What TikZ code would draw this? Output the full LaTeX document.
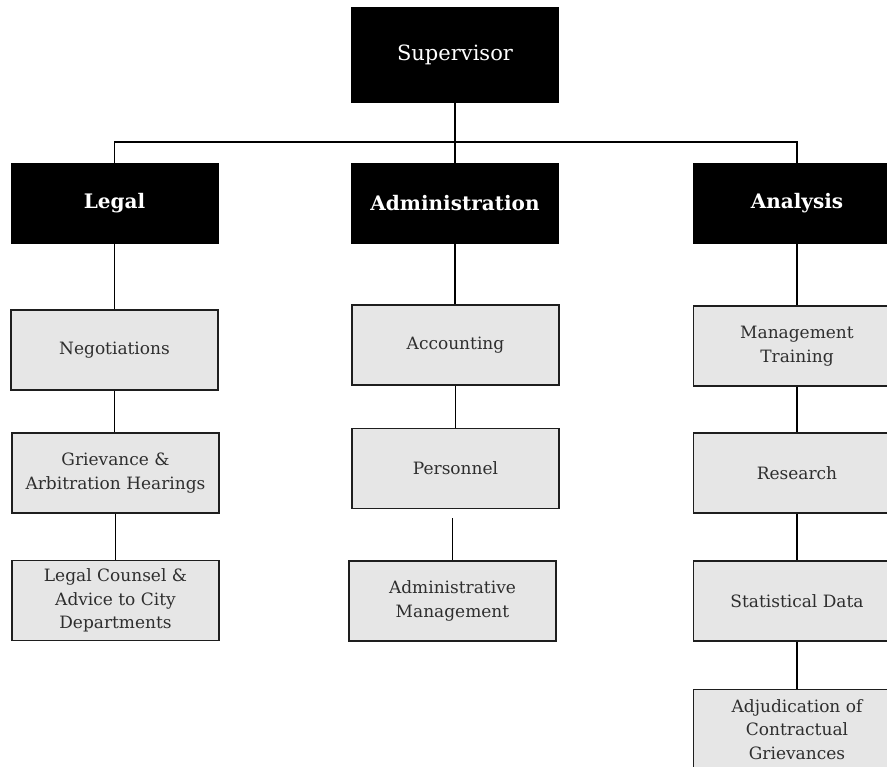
\documentclass[tikz,border=0pt]{standalone}
\usepackage{fontspec}
\setmainfont{DejaVu Serif}
\definecolor{boxfill}{HTML}{E6E6E6}
\definecolor{boxtext}{HTML}{2E2E2E}
\definecolor{boxline}{HTML}{1E1E1E}
\begin{document}
\begin{tikzpicture}[x=1pt,y=-1pt,
  topbox/.style={fill=black,draw=black,minimum width=207pt,minimum height=95pt,inner sep=0pt,text=white,font=\fontsize{21}{25}\selectfont},
  headbox/.style={fill=black,draw=black,minimum width=207pt,minimum height=80pt,inner sep=0pt,text=white,font=\fontsize{20}{24}\selectfont\bfseries},
  itembox/.style={fill=boxfill,draw=boxline,line width=1.1pt,minimum width=207pt,minimum height=80pt,inner sep=0pt,text=boxtext,align=center,font=\fontsize{17}{23.5}\selectfont},
  link/.style={draw=black,line width=1.5pt}]
\useasboundingbox (0,0) rectangle (887,767);
\clip (0,0) rectangle (887,767);
\fill[white] (0,0) rectangle (887,767);
% top
\node[topbox] (sup) at (455,54.5) {Supervisor};
\node[headbox] (legal) at (114.5,203) {Legal};
\node[headbox] (admin) at (455,203) {Administration};
\node[headbox] (analysis) at (797,203) {Analysis};
% legal column
\node[itembox] (neg) at (114.5,350) {Negotiations};
\node[itembox] (griev) at (115.5,473) {Grievance \&\\Arbitration Hearings};
\node[itembox] (counsel) at (115.5,600.5) {Legal Counsel \&\\Advice to City\\Departments};
% administration column
\node[itembox] (acc) at (455.5,345) {Accounting};
\node[itembox] (pers) at (455.5,468.5) {Personnel};
\node[itembox] (amgmt) at (452.5,601) {Administrative\\Management};
% analysis column
\node[itembox] (mtrain) at (797,346) {Management\\Training};
\node[itembox] (res) at (797,473) {Research};
\node[itembox] (stat) at (797,601) {Statistical Data};
\node[itembox,anchor=north] (adj) at (797,689) {Adjudication of\\Contractual\\Grievances};
% connectors
\coordinate (bus) at (455,142);
\coordinate (gap) at (452.5,518);
\draw[link] (sup.south) -- (bus);
\draw[link] (legal.north) |- (bus) -| (analysis.north);
\draw[link] (bus) -- (admin.north);
\draw[link] (legal.south) -- (legal.south |- neg.north);
\draw[link] (neg.south) -- (neg.south |- griev.north);
\draw[link] (griev.south) -- (counsel.north);
\draw[link] (admin.south) -- (admin.south |- acc.north);
\draw[link] (acc.south) -- (acc.south |- pers.north);
\draw[link] (gap) -- (amgmt.north);
\draw[link] (analysis.south) -- (mtrain.north);
\draw[link] (mtrain.south) -- (res.north);
\draw[link] (res.south) -- (stat.north);
\draw[link] (stat.south) -- (adj.north);
\end{tikzpicture}
\end{document}
